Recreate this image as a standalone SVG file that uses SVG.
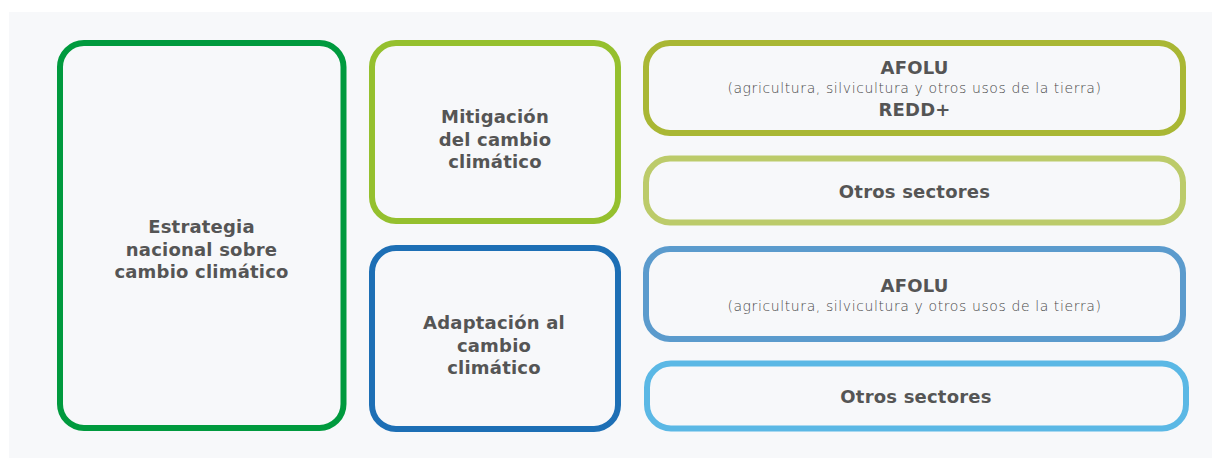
<svg xmlns="http://www.w3.org/2000/svg" width="1221" height="461" viewBox="0 0 1221 461">
<style>
.box{fill:#f7f8fa;stroke-width:6}
.t{font-family:"DejaVu Sans","Liberation Sans",sans-serif;font-weight:700;font-size:18px;letter-spacing:0.2px;fill:#555;text-anchor:middle}
.s{font-family:"DejaVu Sans","Liberation Sans",sans-serif;font-weight:300;font-size:14px;letter-spacing:0.6px;fill:#4a4a4a;text-anchor:middle}
</style>
<rect x="0" y="0" width="1221" height="461" fill="#ffffff"/>
<rect x="9" y="12" width="1203" height="446" fill="#f7f8fa"/>
<g id="estrategia">
<rect class="box" x="60" y="43" width="283.5" height="385" rx="24" stroke="#009a3e"/>
<text class="t" x="201.5" y="233">Estrategia</text>
<text class="t" x="201.5" y="255.5">nacional sobre</text>
<text class="t" x="201.5" y="278">cambio climático</text>
</g>
<g id="mitigacion">
<rect class="box" x="372" y="43" width="246" height="178" rx="24" stroke="#95c02e"/>
<text class="t" x="495" y="123">Mitigación</text>
<text class="t" x="495" y="145.5">del cambio</text>
<text class="t" x="495" y="168">climático</text>
</g>
<g id="adaptacion">
<rect class="box" x="372" y="248" width="246" height="181" rx="24" stroke="#1d6fb5"/>
<text class="t" x="494" y="329">Adaptación al</text>
<text class="t" x="494" y="351.5">cambio</text>
<text class="t" x="494" y="374">climático</text>
</g>
<g id="afolu-mitigacion">
<rect class="box" x="646" y="43" width="537" height="90" rx="24" stroke="#a9b734"/>
<text class="t" x="914.5" y="74">AFOLU</text>
<text class="s" x="914.5" y="93">(agricultura, silvicultura y otros usos de la tierra)</text>
<text class="t" x="914.5" y="116">REDD+</text>
</g>
<g id="otros-mitigacion">
<rect class="box" x="646" y="158.5" width="537" height="64" rx="24" stroke="#bccb6a"/>
<text class="t" x="914.5" y="197.5">Otros sectores</text>
</g>
<g id="afolu-adaptacion">
<rect class="box" x="646" y="249" width="537" height="90" rx="24" stroke="#5b9bcd"/>
<text class="t" x="914.5" y="291.5">AFOLU</text>
<text class="s" x="914.5" y="310.5">(agricultura, silvicultura y otros usos de la tierra)</text>
</g>
<g id="otros-adaptacion">
<rect class="box" x="647" y="363.5" width="539" height="65" rx="24" stroke="#5bb8e5"/>
<text class="t" x="916" y="403">Otros sectores</text>
</g>
<g id="connectors"></g>
</svg>
